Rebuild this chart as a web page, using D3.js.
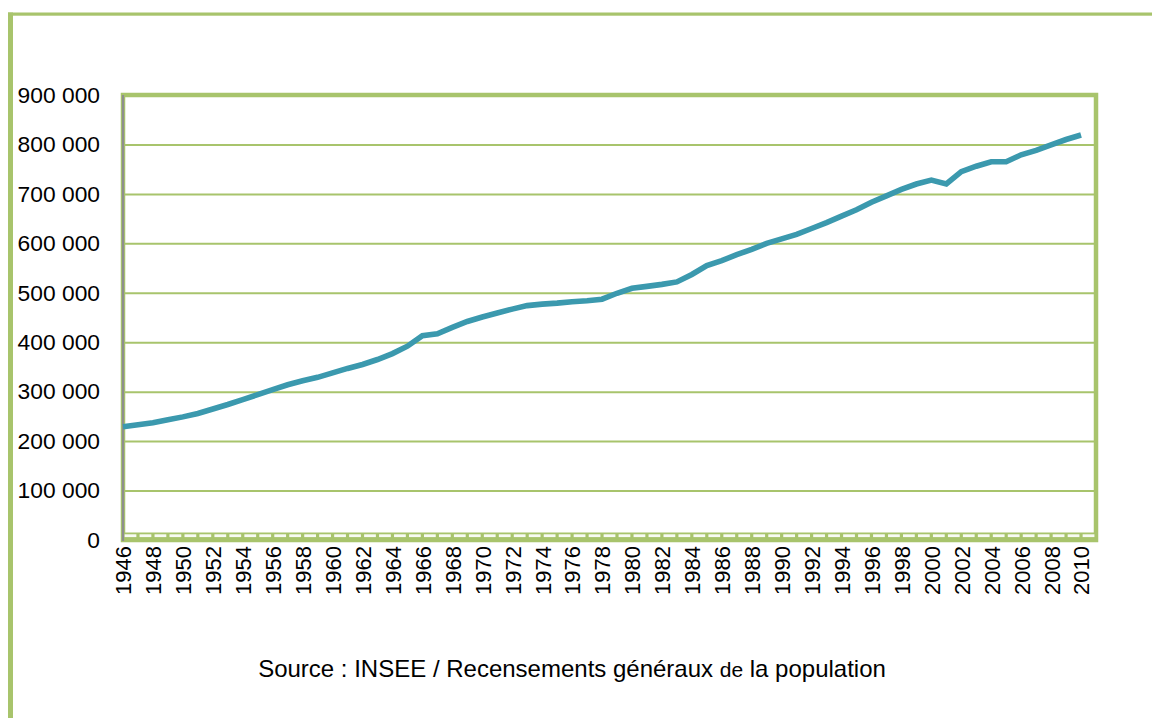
<!DOCTYPE html>
<html>
<head>
<meta charset="utf-8">
<script src="https://cdn.jsdelivr.net/npm/d3@7"></script>
<style>
  html, body { margin: 0; padding: 0; background: #fff; }
  svg { display: block; font-family: "Liberation Sans", Arial, sans-serif; }
</style>
</head>
<body>
<svg id="chart" width="1152" height="718"></svg>
<script>
// ---- data ----
const years = [1946,1947,1948,1949,1950,1951,1952,1953,1954,1955,1956,1957,1958,1959,1960,1961,1962,1963,1964,1965,
  1966,1967,1968,1969,1970,1971,1972,1973,1974,1975,1976,1977,1978,1979,1980,1981,1982,1983,1984,1985,
  1986,1987,1988,1989,1990,1991,1992,1993,1994,1995,1996,1997,1998,1999,2000,2001,2002,2003,2004,2005,
  2006,2007,2008,2009,2010];
const population = [229000,233000,237000,243000,249000,256000,265000,274000,284000,294000,304000,314000,322000,329000,338000,347000,355000,365000,377000,392000,
  413000,417000,430000,442000,451000,459000,467000,474000,477000,479000,482000,484000,487000,499000,509000,513000,517000,522000,537000,555000,
  565000,577000,588000,600000,609000,618000,630000,642000,655000,668000,683000,696000,709000,720000,728000,720000,745000,756000,765000,765000,
  779000,788000,799000,810000,819000];
const yTicks = [0,100000,200000,300000,400000,500000,600000,700000,800000,900000];
const xTickLabels = [1946,1948,1950,1952,1954,1956,1958,1960,1962,1964,1966,1968,1970,1972,1974,1976,1978,1980,1982,1984,
  1986,1988,1990,1992,1994,1996,1998,2000,2002,2004,2006,2008,2010];
const sourceParts = ["Source : INSEE / Recensements généraux ", "de", " la population"];

// ---- layout ----
const svg = d3.select("#chart");
const green = "#a8c46c";
const plot = { left: 123, right: 1096, top: 95, bottom: 540 };

const x = d3.scaleLinear().domain([1946, 2011]).range([plot.left, plot.right]);
const y = d3.scaleLinear().domain([0, 900000]).range([plot.bottom, plot.top]);

const fr = d3.formatLocale({ decimal: ",", thousands: "\u00a0", grouping: [3], currency: ["", " €"] });
const fmt = fr.format(",");

// outer frame
svg.append("rect").attr("x", 8).attr("y", 12.5).attr("width", 5).attr("height", 718 - 12.5).attr("fill", green);
svg.append("rect").attr("x", 8).attr("y", 12.5).attr("width", 1152 - 8).attr("height", 3.2).attr("fill", green);

// gridlines
const grid = svg.append("g").attr("transform", `translate(${plot.left},0)`)
  .call(d3.axisLeft(y).tickValues(yTicks.filter(d => d > 0)).tickSize(-(plot.right - plot.left)).tickFormat(""));
grid.select(".domain").remove();
grid.selectAll("line").attr("stroke", green).attr("stroke-width", 2);

// plot border
svg.append("rect")
  .attr("x", plot.left).attr("y", plot.top)
  .attr("width", plot.right - plot.left).attr("height", plot.bottom - plot.top)
  .attr("fill", "none").attr("stroke", green).attr("stroke-width", 4.5);

// bottom axis band
svg.append("rect").attr("x", plot.left - 2).attr("y", 532.5)
  .attr("width", plot.right - plot.left + 4).attr("height", 9.5).attr("fill", green);
// white dashes between category ticks
const cats = years.concat([2011]);
svg.append("g").selectAll("rect").data(cats.slice(0, -1)).join("rect")
  .attr("x", d => x(d) + 1.6)
  .attr("width", d => x(d + 1) - x(d) - 3.2)
  .attr("y", 534.3).attr("height", 2.8)
  .attr("fill", "#ffffff").attr("opacity", 0.92);

// y axis line (grey)
svg.append("line").attr("x1", plot.left).attr("x2", plot.left)
  .attr("y1", plot.top).attr("y2", plot.bottom + 1)
  .attr("stroke", "#8e8e8e").attr("stroke-width", 2.2);

// y labels
const yAxis = svg.append("g").attr("transform", `translate(${plot.left},0)`)
  .call(d3.axisLeft(y).tickValues(yTicks).tickSize(0).tickPadding(23).tickFormat(d => fmt(d)));
yAxis.select(".domain").remove();
yAxis.selectAll("text").attr("font-size", 22.8).attr("fill", "#000")
  .attr("font-family", "'Liberation Sans', Arial, sans-serif");

// x labels
const xAxis = svg.append("g").attr("transform", `translate(0,546)`)
  .call(d3.axisBottom(x).tickValues(xTickLabels).tickSize(0).tickFormat(d => String(d)));
xAxis.select(".domain").remove();
xAxis.selectAll("text")
  .attr("font-size", 22)
  .attr("fill", "#000")
  .attr("font-family", "'Liberation Sans', Arial, sans-serif")
  .attr("text-anchor", "end")
  .attr("transform", "rotate(-90)")
  .attr("x", 0).attr("y", 0).attr("dy", "0.36em")
  .attr("dx", 0);

// line
const line = d3.line().x((d, i) => x(years[i])).y(d => y(d));
svg.append("path").datum(population)
  .attr("d", line)
  .attr("fill", "none")
  .attr("stroke", "#3b99ae")
  .attr("stroke-width", 5.6)
  .attr("stroke-linejoin", "miter");

// source
const src = svg.append("text").attr("x", 572).attr("y", 677).attr("text-anchor", "middle")
  .attr("font-size", 24).attr("fill", "#000");
src.selectAll("tspan").data(sourceParts).join("tspan")
  .attr("font-size", (d, i) => i === 1 ? 21 : 24)
  .text(d => d);
</script>
</body>
</html>
